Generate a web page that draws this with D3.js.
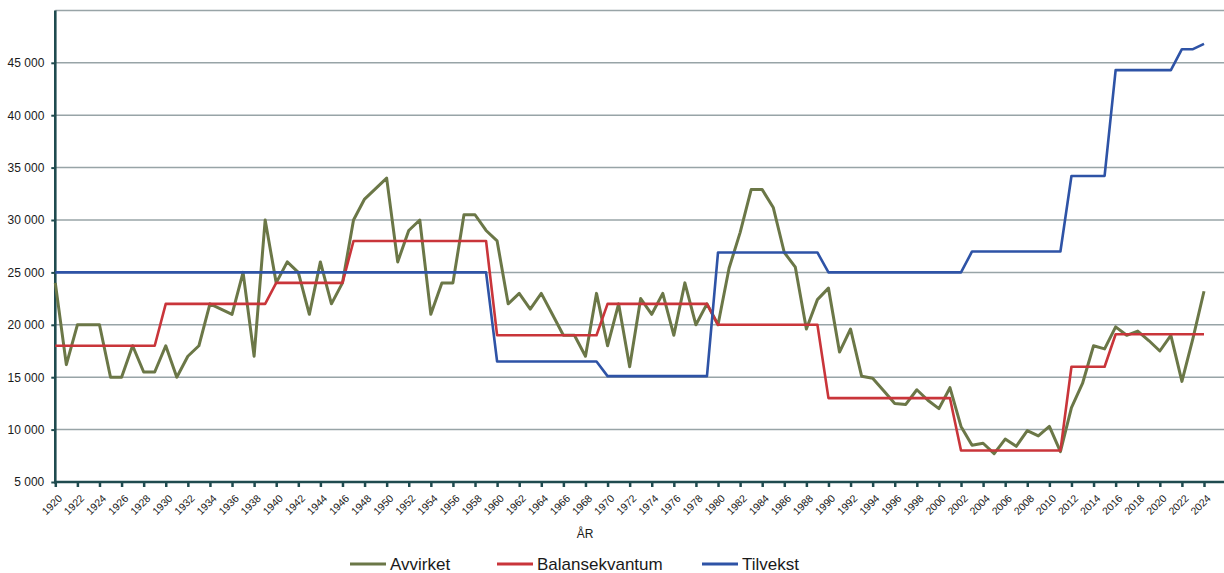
<!DOCTYPE html>
<html><head><meta charset="utf-8">
<script src="https://cdn.jsdelivr.net/npm/d3@7"></script>
<style>
body{margin:0;background:#fff}
svg{display:block}
text{font-family:"Liberation Sans",Arial,sans-serif;fill:#1a1a1a}
</style>
</head><body>
<svg id="chart" width="1224" height="573"></svg>
<script>
const years = d3.range(1920, 2025);

const avvirket = [
 24000,16200,20000,20000,20000,15000,15000,18000,15500,15500,
 18000,15000,17000,18000,22000,21500,21000,25000,17000,30000,
 24000,26000,25000,21000,26000,22000,24000,30000,32000,33000,
 34000,26000,29000,30000,21000,24000,24000,30500,30500,29000,
 28000,22000,23000,21500,23000,21000,19000,19000,17000,23000,
 18000,22000,16000,22500,21000,23000,19000,24000,20000,22000,
 20000,25400,28800,32900,32900,31200,26900,25500,19600,22400,
 23500,17400,19600,15100,14900,13700,12500,12400,13800,12800,
 12000,14000,10300,8500,8700,7700,9100,8400,9900,9400,
 10300,7900,12100,14400,18000,17700,19800,19000,19400,18500,
 17500,19000,14600,18700,23200
];

const balansekvantum = [
 18000,18000,18000,18000,18000,18000,18000,18000,18000,18000,
 22000,22000,22000,22000,22000,22000,22000,22000,22000,22000,
 24000,24000,24000,24000,24000,24000,24000,28000,28000,28000,
 28000,28000,28000,28000,28000,28000,28000,28000,28000,28000,
 19000,19000,19000,19000,19000,19000,19000,19000,19000,19000,
 22000,22000,22000,22000,22000,22000,22000,22000,22000,22000,
 20000,20000,20000,20000,20000,20000,20000,20000,20000,20000,
 13000,13000,13000,13000,13000,13000,13000,13000,13000,13000,
 13000,13000,8000,8000,8000,8000,8000,8000,8000,8000,
 8000,8000,16000,16000,16000,16000,19100,19100,19100,19100,
 19100,19100,19100,19100,19100
];

const tilvekst = [
 25000,25000,25000,25000,25000,25000,25000,25000,25000,25000,
 25000,25000,25000,25000,25000,25000,25000,25000,25000,25000,
 25000,25000,25000,25000,25000,25000,25000,25000,25000,25000,
 25000,25000,25000,25000,25000,25000,25000,25000,25000,25000,
 16500,16500,16500,16500,16500,16500,16500,16500,16500,16500,
 15100,15100,15100,15100,15100,15100,15100,15100,15100,15100,
 26900,26900,26900,26900,26900,26900,26900,26900,26900,26900,
 25000,25000,25000,25000,25000,25000,25000,25000,25000,25000,
 25000,25000,25000,27000,27000,27000,27000,27000,27000,27000,
 27000,27000,34200,34200,34200,34200,44300,44300,44300,44300,
 44300,44300,46300,46300,46800
];

const seriesNames = ["Avvirket", "Balansekvantum", "Tilvekst"];
const seriesColors = ["#6b7747", "#c9353a", "#2e53a6"];
const yTickValues = [5000,10000,15000,20000,25000,30000,35000,40000,45000];
const gridValues = [10000,15000,20000,25000,30000,35000,40000,45000,50000];
const xTickYears = years.filter(y => (y - 1920) % 2 === 0);
const xTitle = "ÅR";

const svg = d3.select("#chart");
const axisColor = "#1f4b4f";
const left = 55.3, bottom = 482, rightEdge = 1224;

const x = d3.scaleLinear().domain([1920, 2024]).range([left, 1204]);
const y = d3.scaleLinear().domain([5000, 50000]).range([bottom, 10.4]);

// gridlines
svg.append("g").selectAll("line").data(gridValues).join("line")
  .attr("x1", left).attr("x2", rightEdge)
  .attr("y1", d => y(d)).attr("y2", d => y(d))
  .attr("stroke", "#98a4a7").attr("stroke-width", 1.5);

// y axis
const fmt = v => d3.format(",")(v).replace(/,/g, " ");
const yAxis = svg.append("g").attr("transform", `translate(${left},0)`)
  .call(d3.axisLeft(y).tickValues(yTickValues).tickSize(4).tickPadding(7).tickFormat(fmt));
yAxis.select(".domain").remove();
yAxis.selectAll(".tick line").attr("stroke", axisColor).attr("stroke-width", 2);
yAxis.selectAll(".tick text").attr("font-size", "12px").attr("fill", "#1a1a1a")
  .attr("font-family", '"Liberation Sans",Arial,sans-serif');
svg.append("line").attr("x1", left).attr("x2", left).attr("y1", y(50000)).attr("y2", bottom + 1.5)
  .attr("stroke", axisColor).attr("stroke-width", 2.6);

// x axis
const xAxis = svg.append("g").attr("transform", `translate(0,${bottom})`)
  .call(d3.axisBottom(x).tickValues(xTickYears).tickSize(5).tickFormat(""));
xAxis.select(".domain").remove();
xAxis.selectAll(".tick line").attr("stroke", axisColor).attr("stroke-width", 2.5);
svg.append("line").attr("x1", left - 1).attr("x2", rightEdge).attr("y1", bottom).attr("y2", bottom)
  .attr("stroke", axisColor).attr("stroke-width", 2.5);

svg.append("g").selectAll("text").data(xTickYears).join("text")
  .attr("transform", d => `translate(${x(d) + 7.5},${bottom + 17}) rotate(-45)`)
  .attr("text-anchor", "end").attr("font-size", "10.5px").attr("fill", "#1a1a1a")
  .text(d => d);

svg.append("text").attr("x", 585).attr("y", 538).attr("text-anchor", "middle")
  .attr("font-size", "12px").text(xTitle);

// lines
const allSeries = [avvirket, balansekvantum, tilvekst];
const line = d3.line().x((d, i) => x(years[i])).y(d => y(d));
allSeries.forEach((s, k) => {
  svg.append("path").datum(s).attr("d", line)
    .attr("fill", "none").attr("stroke", seriesColors[k])
    .attr("stroke-width", k === 0 ? 3 : 2.6).attr("stroke-linejoin", "round");
});

// legend
const legendX = [350, 497, 702];
const lg = svg.append("g");
seriesNames.forEach((name, k) => {
  lg.append("line").attr("x1", legendX[k]).attr("x2", legendX[k] + 36)
    .attr("y1", 564).attr("y2", 564)
    .attr("stroke", seriesColors[k]).attr("stroke-width", 3);
  lg.append("text").attr("x", legendX[k] + 40).attr("y", 570)
    .attr("font-size", "17px").text(name);
});
</script>
</body></html>
